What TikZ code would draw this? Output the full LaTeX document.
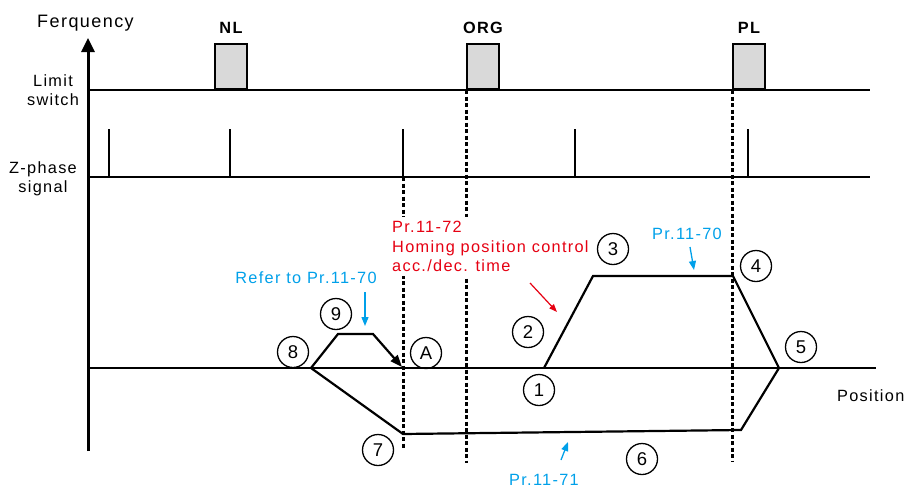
\documentclass[tikz,border=0pt]{standalone}
\usepackage{fontspec}
\setmainfont{Liberation Sans}[LetterSpace=8]
\usepackage{tikz}
\usetikzlibrary{arrows.meta,positioning}

\definecolor{parblue}{RGB}{0,160,233}
\definecolor{parred}{RGB}{230,0,18}

\begin{document}
\begin{tikzpicture}[x=1pt, y=-1pt,
  txt/.style={font=\fontsize{16.3}{19.5}\selectfont, inner sep=0pt},
  btxt/.style={font=\fontsize{16.3}{19.5}\selectfont\bfseries, inner sep=0pt},
  axis/.style={line width=3pt},
  sigline/.style={line width=2.2pt},
  pulse/.style={line width=2pt},
  switchbox/.style={draw, line width=2pt, fill=black!15, minimum width=32pt, minimum height=45pt, anchor=south west, inner sep=0pt},
  marker/.style={dash pattern=on 4pt off 2.5pt, line width=3pt},
  speed/.style={line width=2.2pt, line join=miter},
  stepno/.style={circle, draw, line width=1.3pt, minimum size=31pt, inner sep=0pt, font=\fontsize{18.5}{20}\selectfont},
  bluearrow/.style={parblue, line width=1.3pt, -{Triangle[length=9pt,width=7pt]}},
  redarrow/.style={parred, line width=1.2pt, -{Triangle[length=8pt,width=6pt]}}]

\useasboundingbox (0,0) rectangle (906,488);

\draw[axis, -{Triangle[length=14pt,width=13pt]}] (88,451) -- (88,38);

\node[txt, font=\fontsize{18}{20}\selectfont, anchor=base west] (freq) at (37,27) {Ferquency};

\node[txt, align=center, anchor=north] (limit) at (53,74.3) {Limit\\switch};

\node[txt, align=center, anchor=north] (zphase) at (43,161.3) {Z-phase\\signal};

\draw[sigline] (88,90) -- (870,90);

\draw[sigline] (88,177) -- (870,177);

\draw[sigline] (88,368) -- (876,368);

\node[txt, anchor=base west] (pos) at (837,401) {Position};

\node[switchbox] (nl) at (214,90) {};
\node[switchbox] (org) at (466,90) {};
\node[switchbox] (pl) at (732,90) {};

\node[btxt, above=9pt of nl] (nllabel) {NL};
\node[btxt, above=9pt of org] (orglabel) {ORG};
\node[btxt, above=9pt of pl] (pllabel) {PL};

\foreach \x in {109,230,403,575,748}
{
\draw[pulse] (\x,129) -- (\x,177);
}

\coordinate (zmark) at (403,177);
\coordinate (zmarkend) at (403,449);
\coordinate (orgend) at (466,463);
\coordinate (plend) at (732,462);

\draw[marker] (zmark) -- (zmarkend);
\draw[marker] (org.south west) -- (orgend);
\draw[marker] (pl.south west) -- (plend);

\node[txt, text=parred, fill=white, align=left, anchor=north west, inner xsep=12pt, inner ysep=4pt] (pr72) at (380,217) {Pr.11-72\\Homing position control\\acc./dec. time};

\coordinate (p1) at (544,368);
\coordinate (p3) at (593,276);
\coordinate (p4) at (733,276);
\coordinate (p5) at (779,368);
\coordinate (p6) at (741,430);
\coordinate (p7) at (403,434);
\coordinate (p8) at (311,368);
\coordinate (p9a) at (338,334);
\coordinate (p9b) at (373,334);
\coordinate (pA) at (402,367);

\draw[speed, -{Triangle[length=12pt,width=9pt]}] (p1) -- (p3) -- (p4) -- (p5) -- (p6) -- (p7) -- (p8) -- (p9a) -- (p9b) -- (pA);

\node[stepno] (s1) at (539,390) {1};
\node[stepno] (s2) at (528,332) {2};
\node[stepno] (s3) at (613,249) {3};
\node[stepno] (s4) at (756,266) {4};
\node[stepno] (s5) at (801,347) {5};
\node[stepno] (s6) at (642,459) {6};
\node[stepno] (s7) at (378,450) {7};
\node[stepno] (s8) at (293,352) {8};
\node[stepno] (s9) at (336,314) {9};
\node[stepno] (sA) at (426,353) {A};

\node[txt, text=parblue, anchor=base] (ref70) at (306,283) {Refer to Pr.11-70};
\node[txt, text=parblue, anchor=base] (pr70) at (687,239) {Pr.11-70};
\node[txt, text=parblue, anchor=base] (pr71) at (544,485) {Pr.11-71};

\coordinate (ref70a) at (365,292);
\coordinate (ref70b) at (365,326);
\coordinate (pr70a) at (690,247);
\coordinate (pr70b) at (694,270);
\coordinate (pr71a) at (561,460);
\coordinate (pr71b) at (568,442);
\coordinate (pr72a) at (530,283);
\coordinate (pr72b) at (557,312);

\draw[bluearrow] (ref70a) -- (ref70b);
\draw[bluearrow] (pr70a) -- (pr70b);
\draw[bluearrow] (pr71a) -- (pr71b);
\draw[redarrow] (pr72a) -- (pr72b);

\end{tikzpicture}
\end{document}
